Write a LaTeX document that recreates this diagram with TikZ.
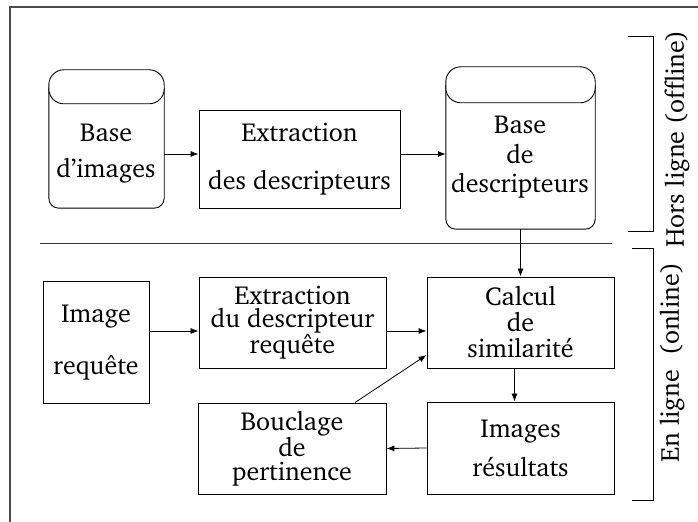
\documentclass[tikz,border=0pt]{standalone}
\usepackage[T1]{fontenc}
\usepackage{charter}
\usetikzlibrary{arrows.meta}

\begin{document}
\begin{tikzpicture}[x=1bp,y=-1bp,
  txt/.style={font=\fontsize{26bp}{#1bp}\selectfont, align=center, inner sep=0pt},
  procbox/.style={draw, line width=0.9bp, minimum width=#1},
  arr/.style={-{Latex[length=8bp,width=6bp]}, line width=0.8bp},
  frameline/.style={draw=black!70, line width=1.1bp},
  brace/.style={line width=0.9bp},
]
\useasboundingbox (0,0) rectangle (698,522);

% outer frame (open on the right and bottom)
\draw[frameline] (10,522) -- (10,7) -- (698,7);

% ---- offline part ----
% database cylinders: invisible body nodes, outline drawn from their anchors
\node[minimum width=115bp, minimum height=138bp, inner sep=0pt] (db1) at (106.5,139) {};
\node[minimum width=149bp, minimum height=162bp, inner sep=0pt] (db2) at (520.5,148) {};
\foreach \db/\cap in {db1/34, db2/36}{
  \draw[line width=0.9bp, rounded corners=10bp]
    ([yshift=-18bp]\db.north west) |- (\db.south) -| ([yshift=-18bp]\db.north east);
  \draw[line width=0.9bp, rounded corners=15bp, fill=white]
    (\db.north west) rectangle ([yshift=-\cap bp]\db.north east);
}
\node[txt=36] (db1lbl) at (106,153) {Base\\d'images};
\node[txt=29.5] (db2lbl) at (520,157) {Base\\de\\descripteurs};

\node[procbox=201bp, minimum height=98bp, txt=48] (ext1) at (299.5,159)
  {Extraction\\des descripteurs};

\draw[arr] ([yshift=5bp]ext1.west -| db1.east) -- ([yshift=5bp]ext1.west);
\draw[arr] ([yshift=5bp]ext1.east) -- ([yshift=5bp]ext1.east -| db2.west);

% separator between the two phases
\draw[line width=0.8bp, black!80] (40,243) -- (612,243);

% ---- online part ----
\node[procbox=106bp, minimum height=122bp, txt=52] (img) at (96,342) {Image\\requ\^ete};
\node[procbox=187bp, minimum height=91bp, txt=23.5] (ext2) at (292.5,322.5)
  {Extraction\\du descripteur\\requ\^ete};
\node[procbox=187bp, minimum height=91bp, txt=26] (calc) at (520.5,322.5)
  {Calcul\\de\\similarit\'e};
\node[procbox=187bp, minimum height=92bp, txt=39] (res) at (520.5,448)
  {Images\\r\'esultats};
\node[procbox=188bp, minimum height=91bp, txt=24.5] (bouc) at (292,448.5)
  {Bouclage\\de\\pertinence};

\draw[arr] (db2.south) -- (calc.north);
\draw[arr] ([yshift=-8.5bp]ext2.west -| img.east) -- ([yshift=-8.5bp]ext2.west);
\draw[arr] ([yshift=-8.5bp]ext2.east) -- ([yshift=-8.5bp]calc.west);
\draw[arr] ([xshift=-6bp]calc.south) -- ([xshift=-6bp]res.north);
\draw[arr] (res.west) -- (bouc.east);
\draw[arr] ([xshift=63bp]bouc.north) -- ([yshift=-32.5bp]calc.west);

% phase brackets and their labels
\draw[brace] (628,36) -- (653,36) -- (653,231) -- (628,231);
\draw[brace] (632,248) -- (653,248) -- (653,500) -- (632,500);
\node[txt=26, rotate=90] (offl) at (677,139) {Hors ligne (offline)};
\node[txt=26, rotate=90] (onl) at (672,363) {En ligne\ \ (online)};
\end{tikzpicture}
\end{document}
